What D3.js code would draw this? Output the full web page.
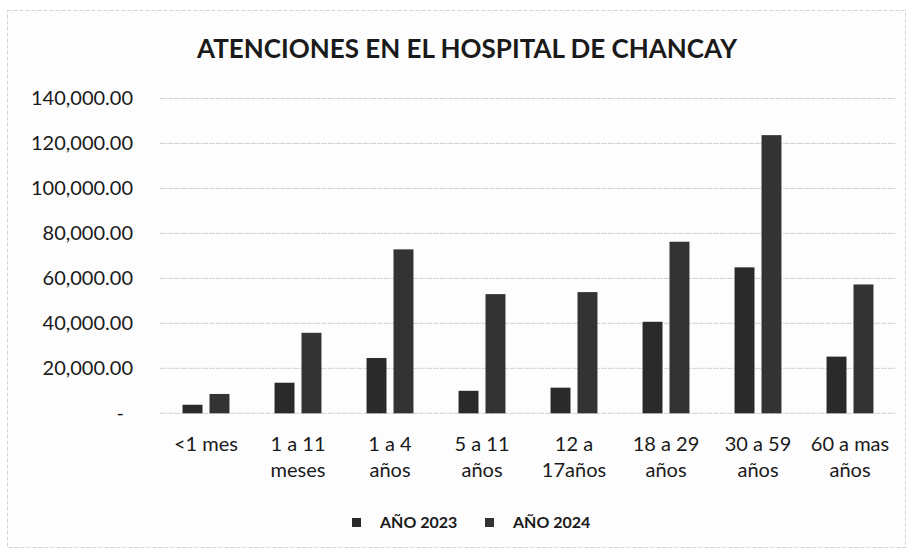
<!DOCTYPE html>
<meta charset="utf-8">
<script src="https://cdn.jsdelivr.net/npm/d3@7"></script>
<style>
body { margin: 0; background: #fff; }
text { font-family: Lato, "Open Sans", sans-serif; fill: #1a1a1a; }
.grid line { stroke: #d2d2d2; stroke-width: 1; stroke-dasharray: 6,1; }
</style>
<body>
<script>

// data
var categories = [["<1 mes"], ["1 a 11", "meses"], ["1 a 4", "años"], ["5 a 11", "años"],
                  ["12 a", "17años"], ["18 a 29", "años"], ["30 a 59", "años"], ["60 a mas", "años"]];
var series = ["AÑO 2023", "AÑO 2024"];
var values2023 = [3800, 13600, 24600, 10000, 11400, 40700, 64900, 25200];
var values2024 = [8600, 35800, 72900, 53000, 53900, 76300, 123700, 57300];
var yTicks = [0, 20000, 40000, 60000, 80000, 100000, 120000, 140000];
var colors = ["#2a2a2a", "#333333"];

var width = 912,
    height = 555;

var svg = d3.select("body").append("svg")
    .attr("width", width)
    .attr("height", height);

// chart frame (scanned, light dashed border)
svg.append("rect")
    .attr("x", 7.5).attr("y", 10.5)
    .attr("width", 898).attr("height", 537)
    .attr("fill", "#fdfdfd")
    .attr("stroke", "#d4d4d4")
    .attr("stroke-dasharray", "4,2");

svg.append("text")
    .attr("x", 467)
    .attr("y", 58)
    .attr("text-anchor", "middle")
    .style("font-size", "26px")
    .style("font-weight", "bold")
    .text("ATENCIONES EN EL HOSPITAL DE CHANCAY");

var pLeft = 160, pRight = 896, pTop = 98.5, pBottom = 413.3;

var labels = categories.map(function(c) { return c.join(" "); });

var x0 = d3.scaleBand()
    .domain(labels)
    .range([pLeft, pRight])
    .paddingInner(0.49)
    .paddingOuter(0.245);

var x1 = d3.scaleBand()
    .domain(series)
    .range([0, x0.bandwidth()])
    .paddingInner(0.26);

var y = d3.scaleLinear()
    .domain([0, 140000])
    .range([pBottom, pTop]);

// gridlines
svg.append("g")
    .attr("class", "grid")
    .selectAll("line")
    .data(yTicks)
    .enter().append("line")
    .attr("x1", pLeft)
    .attr("x2", pRight)
    .attr("y1", function(d) { return y(d); })
    .attr("y2", function(d) { return y(d); });

// y axis labels
var fmt = d3.format(",.2f");
var yAxis = svg.append("g")
    .attr("transform", "translate(" + pLeft + ",0)")
    .call(d3.axisLeft(y).tickValues(yTicks).tickSize(0).tickPadding(27)
        .tickFormat(function(d) { return d === 0 ? "-" : fmt(d); }));
yAxis.select(".domain").remove();
yAxis.selectAll("text")
    .style("font-size", "20px")
    .style("font-family", "Lato, sans-serif")
    .attr("fill", "#1a1a1a")
    .attr("dx", function(d) { return d === 0 ? -9 : 0; });

// bars
var rows = labels.map(function(l, i) {
    return { label: l, vals: [values2023[i], values2024[i]] };
});

var groups = svg.append("g")
    .selectAll("g")
    .data(rows)
    .enter().append("g")
    .attr("transform", function(d) { return "translate(" + x0(d.label) + ",0)"; });

groups.selectAll("rect")
    .data(function(d) { return d.vals.map(function(v, j) { return { s: series[j], v: v, j: j }; }); })
    .enter().append("rect")
    .attr("x", function(d) { return x1(d.s); })
    .attr("y", function(d) { return y(d.v); })
    .attr("width", x1.bandwidth())
    .attr("height", function(d) { return y(0) - y(d.v); })
    .attr("fill", function(d) { return colors[d.j]; });

// category labels, two lines
var xl = svg.append("g")
    .selectAll("text")
    .data(categories)
    .enter().append("text")
    .attr("x", function(d) { return x0(d.join(" ")) + x0.bandwidth() / 2; })
    .attr("y", 451)
    .attr("text-anchor", "middle")
    .style("font-size", "20px");

xl.selectAll("tspan")
    .data(function(d) { return d; })
    .enter().append("tspan")
    .attr("x", function() { return d3.select(this.parentNode).attr("x"); })
    .attr("dy", function(d, i) { return i === 0 ? 0 : 26; })
    .text(function(d) { return d; });

// legend
var legend = svg.append("g")
    .attr("transform", "translate(352,0)");

var legendX = [0, 133];
series.forEach(function(s, i) {
    legend.append("rect")
        .attr("x", legendX[i])
        .attr("y", 518)
        .attr("width", 9)
        .attr("height", 9)
        .attr("fill", colors[i]);
    legend.append("text")
        .attr("x", legendX[i] + 28)
        .attr("y", 528)
        .style("font-size", "16px")
        .style("font-weight", "bold")
        .text(s);
});

</script>
</body>
